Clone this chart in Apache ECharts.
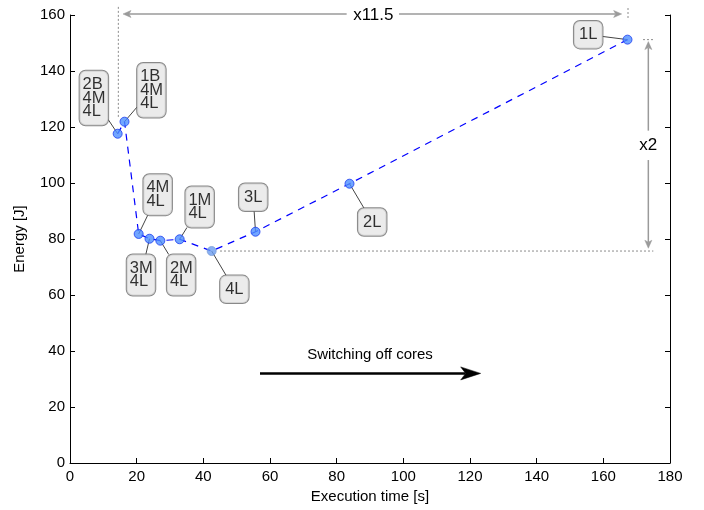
<!DOCTYPE html>
<html><head><meta charset="utf-8">
<script src="https://cdn.jsdelivr.net/npm/echarts@6/dist/echarts.min.js"></script>
<style>html,body{margin:0;padding:0;background:#fff}#c{width:704px;height:510px}</style>
</head><body><div id="c"></div>
<script>
// ---- data ----
const configNames = ['2B\n4M\n4L','1B\n4M\n4L','4M\n4L','3M\n4L','2M\n4L','1M\n4L','4L','3L','2L','1L'];
const execTime = [14.3, 16.35, 20.6, 23.85, 27.1, 32.9, 42.5, 55.65, 83.85, 167.25];
const energy   = [117.6, 121.9, 81.8, 80.1, 79.4, 79.9, 75.7, 82.6, 99.75, 151.2];
const xTickRange = [0, 180, 20];
const yTickRange = [0, 160, 20];

// ---- annotation values (data units) ----
const speedupText = 'x11.5';
const speedupPos = [91.0, 160.0];
const speedupArrowY = 160.36;
const speedupArrowX = [15.9, 83.0, 98.7, 165.5];   // tip, gap start, gap end, tip
const energyText = 'x2';
const energyPos = [173.5, 113.3];
const energyArrowX = 173.5;
const energyArrowY = [150.5, 118.7, 108.2, 76.7];  // tip, gap start, gap end, tip
const coresText = 'Switching off cores';
const coresTextPos = [90, 38.7];
const coresArrowX = [57, 123.2];
const coresArrowY = 32.0;
const guideLeft = [[14.5, 162.9], [14.5, 123.2]];
const guideRightTop = [[167.4, 162.5], [167.4, 158.2]];
const guideTopRight = [[171.9, 151.2], [175, 151.2]];
const guideBottom = [[45, 75.7], [175, 75.7]];

// ---- label layout (pixel offsets of box centre from point) ----
const labelOffsets = [[-23.8,-35.7],[26.9,-31.4],[19,-39.3],[-8.5,36.3],[20.8,34.3],[20,-32.3],[22.7,38.3],[-2.3,-34.4],[22.7,38.3],[-39.3,-5]];
const BOX_W = 22.5, BOX_PAD_X = 3, BOX_PAD_Y = 7, LINE_H = 13.5;

const FONT = '"Liberation Sans", Arial, Helvetica, sans-serif';
const lightIdx = configNames.indexOf('4L');
const points = execTime.map((x,i)=>[x, energy[i]]);

const chart = echarts.init(document.getElementById('c'));
chart.setOption({
  animation:false,
  textStyle:{fontFamily:FONT},
  grid:{left:70, right:34, top:15, bottom:47},
  xAxis:{
    type:'value', min:xTickRange[0], max:xTickRange[1], interval:xTickRange[2],
    name:'Execution time [s]', nameLocation:'middle', nameGap:23,
    nameTextStyle:{fontSize:15, color:'#000', fontFamily:FONT},
    axisLine:{onZero:false, lineStyle:{color:'#000', width:1}},
    axisTick:{inside:true, length:5, lineStyle:{color:'#000'}},
    axisLabel:{fontSize:15, color:'#000', margin:6, fontFamily:FONT},
    splitLine:{show:false}
  },
  yAxis:[{
    type:'value', min:yTickRange[0], max:yTickRange[1], interval:yTickRange[2], position:'left',
    name:'Energy [J]', nameLocation:'middle', nameGap:43,
    nameTextStyle:{fontSize:15, color:'#000', fontFamily:FONT},
    axisLine:{show:true, onZero:false, lineStyle:{color:'#000', width:1}},
    axisTick:{show:true, inside:true, length:5, lineStyle:{color:'#000'}},
    axisLabel:{fontSize:15, color:'#000', margin:5, fontFamily:FONT},
    splitLine:{show:false}
  },{
    type:'value', min:yTickRange[0], max:yTickRange[1], interval:yTickRange[2], position:'right',
    axisLine:{show:true, onZero:false, lineStyle:{color:'#000', width:1}},
    axisTick:{show:true, inside:true, length:5, lineStyle:{color:'#000'}},
    axisLabel:{show:false}, splitLine:{show:false}
  }],
  series:[{
    type:'line', data:points, symbol:'none', clip:false, silent:true, z:1,
    lineStyle:{color:'#0000ff', width:1.2, type:[7,6]}
  },{
    type:'scatter', z:3,
    data: points.map((p,i)=>({
      value:p, name:configNames[i],
      itemStyle: i===lightIdx ? {color:'#6b9ef0', borderColor:'#7a9cd6', borderWidth:1} : undefined
    })),
    symbolSize:9,
    itemStyle:{color:'#4d8fff', borderColor:'#1c3cf0', borderWidth:1},
    label:{
      show:true, position:'inside', formatter:p=>p.name,
      fontSize:16.5, lineHeight:LINE_H, color:'#000', fontFamily:FONT,
      backgroundColor:'#e6e6e6', borderColor:'#6b6b6b', borderWidth:1, borderRadius:6,
      padding:[BOX_PAD_Y,BOX_PAD_X], width:BOX_W
    },
    labelLayout:function(p){
      const o = labelOffsets[p.dataIndex];
      const multi = configNames[p.dataIndex].indexOf('\n') >= 0;
      return {
        dx: multi ? o[0] - (BOX_W/2 + BOX_PAD_X) : o[0], dy:o[1],
        align: multi ? 'left' : 'center', verticalAlign:'middle'
      };
    },
    emphasis:{disabled:true}
  }]
});

// ---- annotations drawn through the chart's own coordinate conversion ----
const P = v => chart.convertToPixel({xAxisIndex:0, yAxisIndex:0}, v);
const gfx = [];
function line(a, b, style){
  const pa = P(a), pb = P(b);
  gfx.push({type:'line', z:50, silent:true, shape:{x1:pa[0], y1:pa[1], x2:pb[0], y2:pb[1]}, style:style});
}
const dotted = {stroke:'#8c8c8c', lineDash:[2,2], lineWidth:1};
function arrow(from, tip, color, width, len, halfW, notch){
  const a = P(from), t = P(tip);
  const dx = t[0]-a[0], dy = t[1]-a[1], d = Math.hypot(dx,dy);
  const ux = dx/d, uy = dy/d, nx = -uy, ny = ux;
  const bx = t[0]-ux*len, by = t[1]-uy*len;
  const mx = t[0]-ux*(len-notch), my = t[1]-uy*(len-notch);
  gfx.push({type:'line', z:50, silent:true, shape:{x1:a[0], y1:a[1], x2:mx, y2:my}, style:{stroke:color, lineWidth:width}});
  gfx.push({type:'polygon', z:51, silent:true, shape:{points:[[t[0],t[1]],[bx+nx*halfW, by+ny*halfW],[mx,my],[bx-nx*halfW, by-ny*halfW]]}, style:{fill:color, stroke:color, lineWidth:0.5}});
}
function text(pos, str, size){
  const p = P(pos);
  gfx.push({type:'text', z:52, silent:true, x:p[0], y:p[1], style:{text:str, fontSize:size, fontFamily:FONT, fill:'#000', align:'center', verticalAlign:'middle'}});
}
// leader lines from each point to its label box
points.forEach((pt, i) => {
  const p = P(pt), o = labelOffsets[i];
  const nLines = configNames[i].split('\n').length;
  const hw = BOX_W/2 + BOX_PAD_X, hh = (nLines*LINE_H)/2 + BOX_PAD_Y;
  const s = Math.min(hw/Math.abs(o[0] || 1e-6), hh/Math.abs(o[1] || 1e-6));
  const ax = p[0] + o[0]*(1-s), ay = p[1] + o[1]*(1-s);
  gfx.push({type:'line', z:0, silent:true, shape:{x1:p[0], y1:p[1], x2:ax, y2:ay}, style:{stroke:'#444', lineWidth:1}});
});
line(guideLeft[0], guideLeft[1], dotted);
line(guideRightTop[0], guideRightTop[1], dotted);
line(guideTopRight[0], guideTopRight[1], dotted);
line(guideBottom[0], guideBottom[1], dotted);
const gray = '#9a9a9a';
arrow([speedupArrowX[1], speedupArrowY], [speedupArrowX[0], speedupArrowY], gray, 1.5, 8, 3.5, 2);
arrow([speedupArrowX[2], speedupArrowY], [speedupArrowX[3], speedupArrowY], gray, 1.5, 8, 3.5, 2);
arrow([energyArrowX, energyArrowY[1]], [energyArrowX, energyArrowY[0]], gray, 1.5, 8, 3.5, 2);
arrow([energyArrowX, energyArrowY[2]], [energyArrowX, energyArrowY[3]], gray, 1.5, 8, 3.5, 2);
arrow([coresArrowX[0], coresArrowY], [coresArrowX[1], coresArrowY], '#000', 2.5, 20, 6.5, 5);
text(speedupPos, speedupText, 17);
text(energyPos, energyText, 17);
text(coresTextPos, coresText, 15);
chart.setOption({graphic: gfx});
</script>
</body></html>
